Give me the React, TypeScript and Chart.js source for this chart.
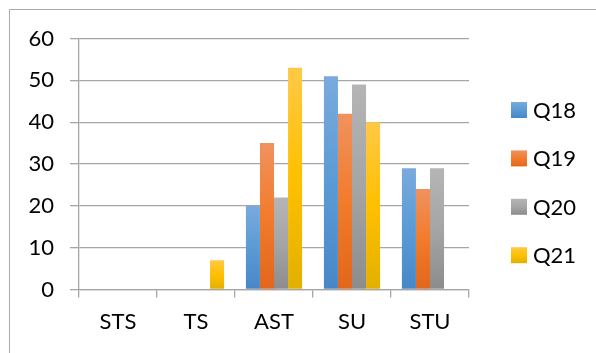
import React, { useEffect, useRef } from "react";
import { Chart, registerables } from "chart.js";

Chart.register(...registerables);

const categories = ["STS", "TS", "AST", "SU", "STU"];
const seriesLabels = ["Q18", "Q19", "Q20", "Q21"];
const q18 = [0, 0, 20, 51, 29];
const q19 = [0, 0, 35, 42, 24];
const q20 = [0, 0, 22, 49, 29];
const q21 = [0, 7, 53, 40, 0];
const yTicks = [0, 10, 20, 30, 40, 50, 60];

const palettes = [
  ["#7AAADD", "#5B9BD5", "#4787C7"],
  ["#F0925F", "#F27B2C", "#E2661B"],
  ["#B5B5B5", "#A5A5A5", "#8C8C8C"],
  ["#FFC946", "#FFC000", "#E2B000"],
];

const FONT = "Lato, 'Open Sans', sans-serif";

function makeGradient(ctx: CanvasRenderingContext2D, top: number, bottom: number, pal: string[]) {
  const g = ctx.createLinearGradient(0, top, 0, bottom);
  g.addColorStop(0, pal[0]);
  g.addColorStop(0.5, pal[1]);
  g.addColorStop(1, pal[2]);
  return g;
}

const frameAndLegend = {
  id: "frameAndLegend",
  afterDraw(chart: any) {
    const ctx = chart.ctx as CanvasRenderingContext2D;
    ctx.save();
    // outer frame
    ctx.strokeStyle = "#ABABAB";
    ctx.lineWidth = 1;
    ctx.beginPath();
    ctx.moveTo(9.5, 353);
    ctx.lineTo(9.5, 9.5);
    ctx.lineTo(596, 9.5);
    ctx.stroke();
    // legend
    const datasets = chart.data.datasets;
    const x0 = 511;
    const y0 = 110;
    const step = 48.4;
    ctx.font = `22px ${FONT}`;
    ctx.textBaseline = "middle";
    ctx.textAlign = "left";
    datasets.forEach((ds: any, i: number) => {
      const cy = y0 + i * step;
      ctx.fillStyle = makeGradient(ctx, cy - 8, cy + 8, palettes[i]);
      ctx.fillRect(x0, cy - 8, 16, 16);
      ctx.fillStyle = "#000000";
      ctx.fillText(ds.label, x0 + 22, cy + 1);
    });
    ctx.restore();
  },
};

export default function App() {
  const ref = useRef<HTMLCanvasElement>(null);

  useEffect(() => {
    document.body.style.margin = "0";
    document.body.style.overflow = "hidden";
    const canvas = ref.current!;
    const series = [q18, q19, q20, q21];
    const chart = new Chart(canvas, {
      type: "bar",
      data: {
        labels: categories,
        datasets: series.map((data, i) => ({
          label: seriesLabels[i],
          data,
          backgroundColor: (c: any) => {
            const ch = c.chart;
            const y = ch.scales?.y;
            if (!y || !ch.chartArea) return palettes[i][1];
            const v = c.raw ?? 0;
            const top = y.getPixelForValue(v);
            const bottom = y.getPixelForValue(0);
            if (bottom - top < 1) return palettes[i][1];
            return makeGradient(ch.ctx, top, bottom, palettes[i]);
          },
          borderWidth: 0,
          categoryPercentage: 0.72,
          barPercentage: 1,
        })),
      },
      options: {
        animation: false,
        responsive: false,
        layout: { padding: { left: 0, right: 127, top: 38.5, bottom: 0 } },
        plugins: {
          legend: { display: false },
          tooltip: { enabled: false },
        },
        scales: {
          x: {
            offset: true,
            afterFit: (s: any) => {
              s.height = 353 - 289.5;
            },
            grid: {
              offset: true,
              drawOnChartArea: false,
              drawTicks: true,
              tickLength: 8,
              color: "#A6A6A6",
              lineWidth: 1.3,
            },
            border: { display: true, color: "#A6A6A6", width: 1.3 },
            ticks: {
              color: "#000000",
              font: { family: FONT, size: 22 },
              padding: 11,
            },
          },
          y: {
            min: 0,
            max: 60,
            afterFit: (s: any) => {
              s.width = 79;
            },
            afterBuildTicks: (s: any) => {
              s.ticks = yTicks.map((v) => ({ value: v }));
            },
            grid: {
              color: "#A6A6A6",
              lineWidth: 1.3,
              drawTicks: true,
              tickLength: 9,
            },
            border: { display: true, color: "#A6A6A6", width: 1.3 },
            ticks: {
              color: "#000000",
              font: { family: FONT, size: 22 },
              padding: 16,
            },
          },
        },
      },
      plugins: [frameAndLegend],
    });
    return () => chart.destroy();
  }, []);

  return (
    <div style={{ position: "absolute", left: 0, top: 0, width: 596, height: 353, background: "#ffffff" }}>
      <canvas ref={ref} width={596} height={353} style={{ width: 596, height: 353, display: "block" }} />
    </div>
  );
}
